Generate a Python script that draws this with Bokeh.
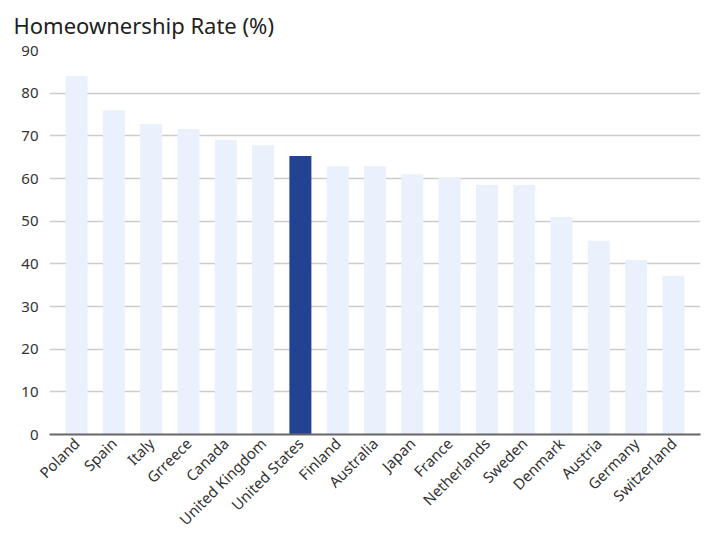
import math
from bokeh.plotting import figure
from bokeh.models import FactorRange, Range1d, FixedTicker, ColumnDataSource
from bokeh.embed import file_html
from bokeh.resources import INLINE

countries = ["Poland", "Spain", "Italy", "Grreece", "Canada", "United Kingdom",
             "United States", "Finland", "Australia", "Japan", "France",
             "Netherlands", "Sweden", "Denmark", "Austria", "Germany", "Switzerland"]
rates = [84.0, 76.0, 72.8, 71.6, 69.0, 67.8, 65.3, 62.9, 62.9, 61.0, 60.3,
         58.5, 58.5, 51.0, 45.4, 40.9, 37.2]
highlight = "United States"
y_ticks = [0, 10, 20, 30, 40, 50, 60, 70, 80, 90]
title_text = "Homeownership Rate (%)"

LIGHT = "#EAF0FC"
DARK = "#234392"
FONT = "Noto Sans"

colors = [DARK if c == highlight else LIGHT for c in countries]
src = ColumnDataSource(dict(x=countries, top=rates, color=colors))

p = figure(x_range=FactorRange(*countries, range_padding=0.225, range_padding_units="absolute"),
           y_range=Range1d(0, 90),
           width=706, height=539, output_backend="svg", toolbar_location=None,
           min_border_left=49, min_border_right=6, min_border_top=50, min_border_bottom=10)

p.vbar(x="x", top="top", width=0.59, color="color", source=src, line_color=None)

p.title.text = title_text
p.title.text_font = FONT
p.title.text_font_size = "22px"
p.title.text_font_style = "normal"
p.title.text_color = "#222222"
p.title.align = "left"
p.title.vertical_align = "top"
p.title.offset = -36
p.title.standoff = 18

p.outline_line_color = None
p.background_fill_color = "white"
p.border_fill_color = "white"

p.xgrid.grid_line_color = None
p.ygrid.grid_line_color = "#CCCCCC"
p.ygrid.grid_line_width = 1.5
p.yaxis.ticker = FixedTicker(ticks=y_ticks)

p.yaxis.axis_line_color = None
p.yaxis.major_tick_line_color = None
p.yaxis.minor_tick_line_color = None
p.yaxis.major_tick_out = 0
p.yaxis.major_tick_in = 0
p.yaxis.major_label_standoff = 11
p.yaxis.major_label_text_font = FONT
p.yaxis.major_label_text_font_size = "15px"
p.yaxis.major_label_text_color = "#333333"

p.xaxis.axis_line_color = "#666666"
p.xaxis.axis_line_width = 2
p.xaxis.major_tick_line_color = None
p.xaxis.major_tick_out = 0
p.xaxis.major_tick_in = 0
p.xaxis.major_label_standoff = 6
p.xaxis.major_label_orientation = math.pi / 4
p.xaxis.major_label_text_font = FONT
p.xaxis.major_label_text_font_size = "15px"
p.xaxis.major_label_text_color = "#333333"

open("out.html", "w").write(file_html(p, INLINE))
